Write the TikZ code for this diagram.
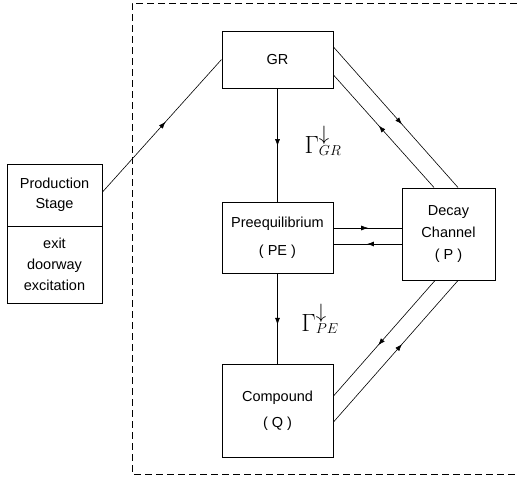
\documentclass[tikz,border=0pt]{standalone}
\usepackage{fontspec}
\setmainfont{Liberation Sans}
\usepackage{tikz}
\usetikzlibrary{calc}
\usetikzlibrary{arrows.meta}
\usetikzlibrary{decorations.markings}
\tikzset{
  stagebox/.style={draw, line width=1pt, align=center, inner sep=0pt},
  flow/.style={line width=0.6pt, postaction={decorate},
    decoration={markings, mark=at position #1 with {\arrow{Latex[length=7pt,width=5pt]}}}},
  flow/.default=0.55,
  rate/.style={inner sep=0pt, font=\fontsize{31}{34}\selectfont}
}

\begin{document}
\begin{tikzpicture}[x=1pt, y=-1pt, font=\fontsize{14.5}{17}\selectfont]

\useasboundingbox (0,0) rectangle (517,483);

%\fill [lightgray] (132,3) rectangle (517,474);
\draw [line width=0.9pt, dash pattern=on 7pt off 4pt] (517,3) -- (132,3) -- (132,474) -- (517,474);

\node [stagebox, minimum width=95pt, minimum height=62pt] (prod) at (54.5,195) {Production\\[3pt] Stage};
\node [stagebox, minimum width=95pt, minimum height=77pt] (exit) at (54.5,264.5) {exit\\[4pt] doorway\\[4pt] excitation};

\node [stagebox, minimum width=111pt, minimum height=57pt] (gr) at (277.5,59.5) {GR};
\node [stagebox, minimum width=111pt, minimum height=71pt] (pe) at (277.5,237.5) {Preequilibrium\\[11pt] ( PE )};
\node [stagebox, minimum width=93pt, minimum height=92pt] (dc) at (448.5,234) {Decay\\[5pt] Channel\\[5pt] ( P )};
\node [stagebox, minimum width=111pt, minimum height=93pt] (cn) at (277.5,410.5) {Compound\\[9pt] ( Q )};

\draw [flow=0.53] ([yshift=3pt]prod.east) -- (gr.west);
\draw [flow=0.51] (gr.south) -- (pe.north);
\draw [flow=0.57] (pe.south) -- (cn.north);

\draw [flow] ([yshift=12.5pt]gr.east) -- ([xshift=9.5pt]dc.north);
\draw [flow] ([xshift=-14.5pt]dc.north) -- ([yshift=-15.5pt]gr.east);

\draw [flow=0.51] ([yshift=9.5pt]pe.east) -- ([yshift=9.5pt]pe.east -| dc.west);
\draw [flow=0.51, line width=1pt] ([yshift=-6.5pt]pe.east -| dc.west) -- ([yshift=-6.5pt]pe.east);

\draw [flow=0.56] ([xshift=-13.5pt]dc.south) -- ([yshift=14.5pt]cn.east);
\draw [flow] ([yshift=-11.5pt]cn.east) -- ([xshift=9.5pt]dc.south);

\node [rate] (ggr) at (323,141) {$\Gamma^{\scriptstyle\downarrow}_{\scriptscriptstyle GR}$};
\node [rate] (gpe) at (320,319) {$\Gamma^{\scriptstyle\downarrow}_{\scriptscriptstyle PE}$};

\end{tikzpicture}
\end{document}
